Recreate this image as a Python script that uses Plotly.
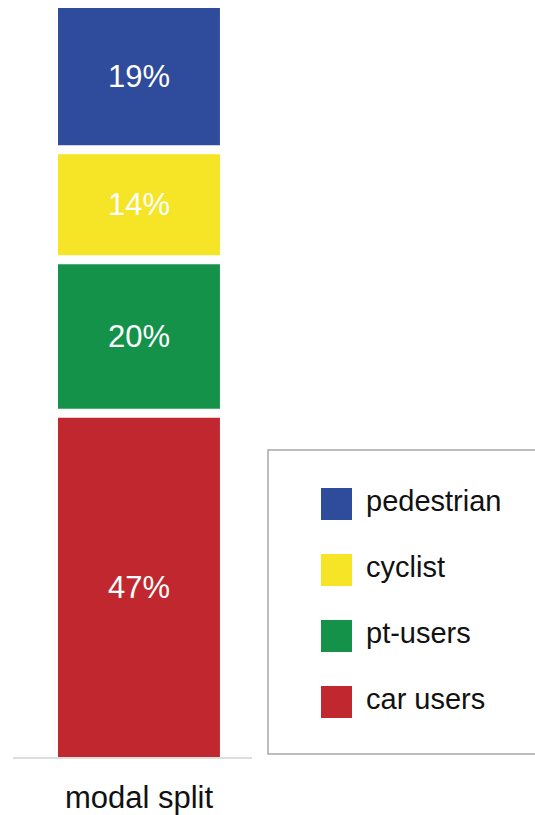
import plotly.graph_objects as go

# ---- data ----
categories = ["pedestrian", "cyclist", "pt-users", "car users"]
shares = [19, 14, 20, 47]
colors = ["#2f4b9b", "#f5e526", "#14924a", "#c1272e"]
axis_label = "modal split"

W, H = 535, 815
GAP = 1.25  # white gap between stacked segments, in % units
FONT = "Liberation Sans, Arial, sans-serif"

fig = go.Figure()

# stack bottom-up: car users first
base = 0.0
for name, val, col in reversed(list(zip(categories, shares, colors))):
    fig.add_trace(go.Bar(
        x=[0], y=[val], base=[base], width=1, name=name,
        marker=dict(color=col, line=dict(width=0)),
        text=[f"{val}%"], textposition="inside", insidetextanchor="middle",
        textangle=0, textfont=dict(color="white", size=31, family=FONT),
        showlegend=False, hoverinfo="skip",
    ))
    base += val + GAP
top = base - GAP

def px(x):
    return x / W

def py(y):
    return (H - y) / H

shapes = []
annotations = []
# legend frame
shapes.append(dict(type="rect", xref="paper", yref="paper",
                   x0=px(268), x1=px(538), y0=py(754), y1=py(450),
                   line=dict(color="#a8a8a8", width=1.5), fillcolor="rgba(0,0,0,0)"))
for i, (name, col) in enumerate(zip(categories, colors)):
    y0 = 488 + 66 * i
    shapes.append(dict(type="rect", xref="paper", yref="paper",
                       x0=px(321), x1=px(352), y0=py(y0 + 32), y1=py(y0),
                       line=dict(width=0), fillcolor=col))
    annotations.append(dict(xref="paper", yref="paper", x=px(364), y=py(y0 + 13),
                            text=name, showarrow=False, xanchor="left", yanchor="middle",
                            font=dict(size=29, color="#111111", family=FONT)))

fig.update_layout(
    width=W, height=H,
    margin=dict(l=0, r=0, t=0, b=0),
    paper_bgcolor="white", plot_bgcolor="white",
    barmode="overlay",
    showlegend=False,
    shapes=shapes, annotations=annotations,
    font=dict(family=FONT),
    xaxis=dict(domain=[px(13), px(252)], range=[-0.778, 0.698],
               tickvals=[0], ticktext=[axis_label], ticks="",
               tickfont=dict(size=31, color="#111111", family=FONT),
               showline=True, linecolor="#dddddd", linewidth=1.5,
               showgrid=False, zeroline=False, fixedrange=True,
               ticklabelstandoff=12),
    yaxis=dict(domain=[(H - 757) / H, (H - 8) / H], range=[0, top],
               visible=False, showgrid=False, zeroline=False, fixedrange=True),
    uniformtext=dict(mode="show", minsize=30),
)

fig.write_html("out.html", config={"displayModeBar": False},
               post_script="document.body.style.margin='0';document.body.style.overflow='hidden';")
